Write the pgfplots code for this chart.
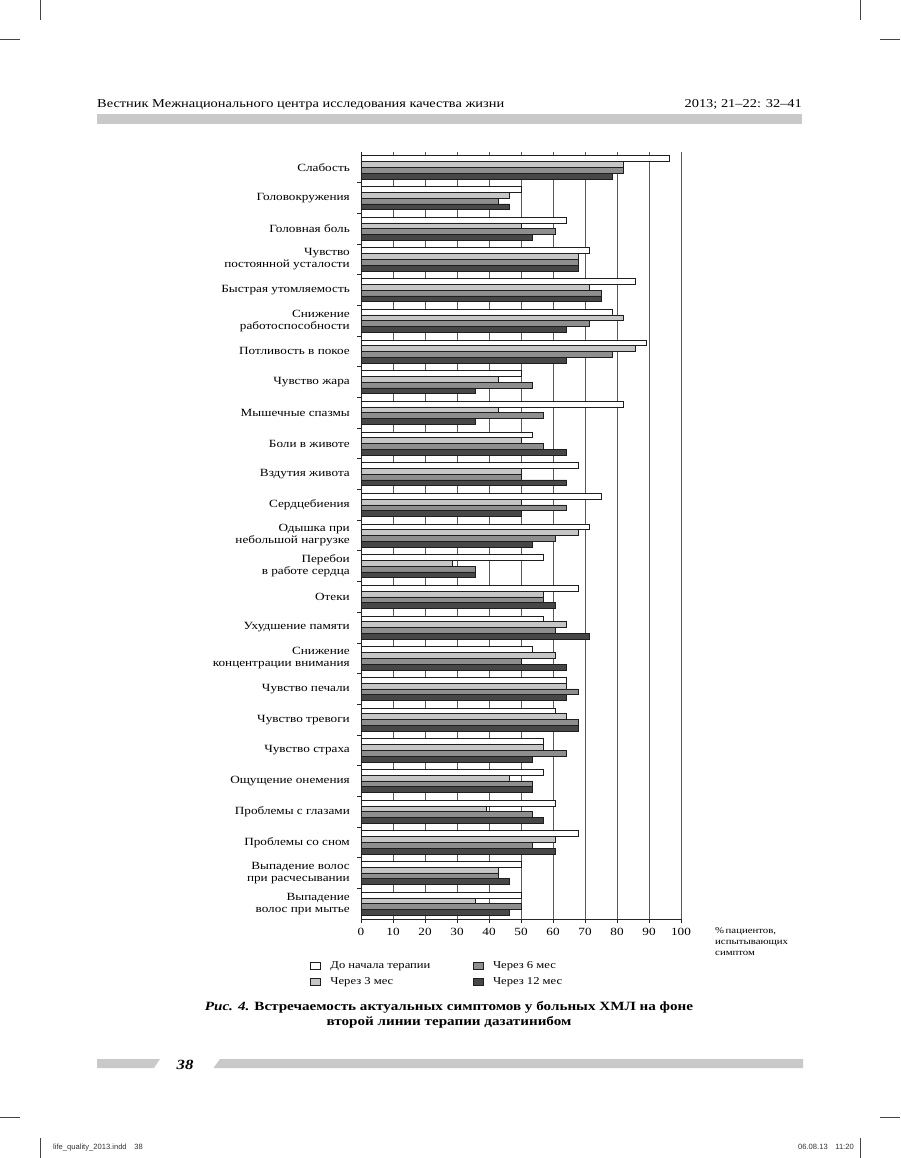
\documentclass[border=0pt]{standalone}
\usepackage{fontspec}
\setmainfont{Liberation Serif}[FakeStretch=1.2]
\newfontfamily\sansf{Liberation Sans}
\usepackage{pgfplots}
\usepackage{pgfplotstable}
\pgfplotsset{compat=1.18}
\definecolor{cA}{HTML}{FFFFFF}
\definecolor{cB}{HTML}{C6C6C6}
\definecolor{cC}{HTML}{8E8E8E}
\definecolor{cD}{HTML}{474747}
\definecolor{barline}{HTML}{1E1E1E}
\definecolor{bandgray}{HTML}{C9C9C9}
\definecolor{gridc}{HTML}{5A5A5A}
\definecolor{cropc}{HTML}{444444}

\pgfplotstableread{
y a b c d
24 96.4 82.1 82.1 78.6
23 50 46.4 42.9 46.4
22 64.3 50 60.7 53.6
21 71.4 67.9 67.9 67.9
20 85.7 71.4 75 75
19 78.6 82.1 71.4 64.3
18 89.3 85.7 78.6 64.3
17 50 42.9 53.6 35.7
16 82.1 42.9 57.1 35.7
15 53.6 50 57.1 64.3
14 67.9 50 50 64.3
13 75 50 64.3 50
12 71.4 67.9 60.7 53.6
11 57.1 28.6 35.7 35.7
10 67.9 57.1 57.1 60.7
9 57.1 64.3 60.7 71.4
8 53.6 60.7 50 64.3
7 64.3 64.3 67.9 64.3
6 60.7 64.3 67.9 67.9
5 57.1 57.1 64.3 53.6
4 57.1 46.4 53.6 53.6
3 60.7 39.3 53.6 57.1
2 67.9 60.7 53.6 60.7
1 50 42.9 42.9 46.4
0 50 35.7 50 46.4
}\data

\begin{document}
\begin{tikzpicture}[x=1pt,y=1pt]
\useasboundingbox (0,0) rectangle (900,-1158);
% crop marks
\begin{scope}[line width=0.8pt, draw=cropc]
\draw (40,0) -- (40,-20);
\draw (0,-39.5) -- (20,-39.5);
\draw (860,0) -- (860,-20);
\draw (880,-39.5) -- (900,-39.5);
\draw (0,-1117.5) -- (20,-1117.5);
\draw (40,-1138) -- (40,-1158);
\draw (880,-1117.5) -- (900,-1117.5);
\draw (860,-1138) -- (860,-1158);
\end{scope}
\node[anchor=base west, inner sep=0, font=\sansf\fontsize{7.6}{8}\selectfont, text=black!80] at (53,-1149) {life\_quality\_2013.indd\quad 38};
\node[anchor=base east, inner sep=0, font=\sansf\fontsize{7.6}{8}\selectfont, text=black!80] at (854,-1149) {06.08.13\quad 11:20};
% header
\node[anchor=base west, inner sep=0, font=\fontsize{12}{14}\selectfont] at (97,-108) {Вестник Межнационального центра исследования качества жизни};
\node[anchor=base east, inner sep=0, font=\fontsize{12}{14}\selectfont] at (802,-108) {2013; 21–22: 32–41};
\fill[bandgray] (97,-114.3) rectangle (802,-124.3);
% footer
\fill[bandgray] (97,-1059) -- (160,-1059) -- (154,-1068) -- (97,-1068) -- cycle;
\fill[bandgray] (220,-1059) -- (803,-1059) -- (803,-1068) -- (213.5,-1068) -- cycle;
\node[anchor=base west, inner sep=0, font=\fontsize{14}{16}\selectfont\bfseries\itshape] at (176.5,-1069) {38};
% caption
\node[align=center, inner sep=0, font=\fontsize{12.6}{14.4}\selectfont\bfseries] at (449,-1015) {\textit{Рис. 4.} Встречаемость актуальных симптомов у больных ХМЛ на фоне\\второй линии терапии дазатинибом};
% x axis note
\node[anchor=north west, align=left, inner sep=0, font=\fontsize{9}{11}\selectfont] at (715,-927) {\%\,пациентов,\\испытывающих\\симптом};

\begin{axis}[
  at={(361pt,-919pt)}, anchor=south west,
  scale only axis, width=320pt, height=767pt,
  xmin=0, xmax=100, ymin=-0.5, ymax=24.5,
  axis x line*=bottom, axis y line*=left,
  axis line style={-, black!85, line width=0.7pt},
  xtick={0,10,...,100}, tick align=outside, major tick length=4pt,
  every major x tick/.append style={black!85, line width=0.7pt},
  ytick={0,...,24},
  every major y tick/.append style={draw=none},
  minor ytick={0.5,1.5,...,23.5}, minor tick length=4pt,
  every minor y tick/.append style={black!85, line width=0.7pt},
  xmajorgrids, major grid style={gridc, line width=0.5pt},
  /pgf/number format/assume math mode=true,
  xticklabel style={font=\fontsize{11}{13}\selectfont, inner sep=0pt, yshift=-5pt},
  yticklabel style={font=\fontsize{11}{12}\selectfont, align=right, inner sep=0pt, xshift=-7pt},
  yticklabels={{Выпадение\\волос при мытье},{Выпадение волос\\при расчесывании},{Проблемы со сном},{Проблемы с глазами},{Ощущение онемения},{Чувство страха},{Чувство тревоги},{Чувство печали},{Снижение\\концентрации внимания},{Ухудшение памяти},{Отеки},{Перебои\\в работе сердца},{Одышка при\\небольшой нагрузке},{Сердцебиения},{Вздутия живота},{Боли в животе},{Мышечные спазмы},{Чувство жара},{Потливость в покое},{Снижение\\работоспособности},{Быстрая утомляемость},{Чувство\\постоянной усталости},{Головная боль},{Головокружения},{Слабость}},
  xbar, bar width=5.8pt,
  legend columns=2, transpose legend,
  legend cell align=left,
  legend image code/.code={\draw[#1, line width=0.6pt] (0pt,-3.5pt) rectangle (10pt,3.5pt);},
  legend style={draw=none, fill=none, at={(-0.159,-0.053)}, anchor=north west,
    font=\fontsize{10.5}{12}\selectfont, inner sep=0pt, row sep=5pt,
    nodes={inner sep=1.5pt},
    /tikz/every odd column/.append style={column sep=8pt},
    /tikz/every even column/.append style={column sep=41pt}},
]
\addplot[fill=cA, draw=barline, line width=0.6pt, bar shift=8.7pt] table[x=a,y=y]{\data};
\addplot[fill=cB, draw=barline, line width=0.6pt, bar shift=2.9pt] table[x=b,y=y]{\data};
\addplot[fill=cC, draw=barline, line width=0.6pt, bar shift=-2.9pt] table[x=c,y=y]{\data};
\addplot[fill=cD, draw=barline, line width=0.6pt, bar shift=-8.7pt] table[x=d,y=y]{\data};
\legend{До начала терапии, Через 3 мес, Через 6 мес, Через 12 мес}
\end{axis}
\end{tikzpicture}
\end{document}
